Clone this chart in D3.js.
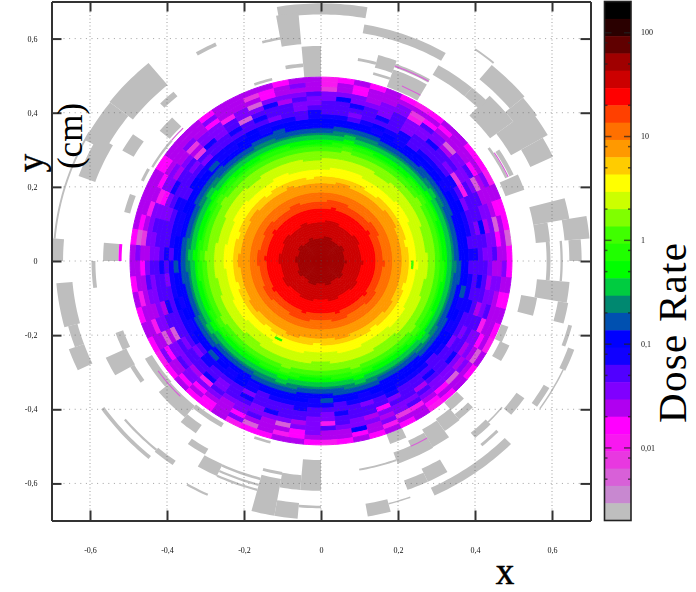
<!DOCTYPE html>
<html>
<head>
<meta charset="utf-8">
<script src="https://cdn.jsdelivr.net/npm/d3@7"></script>
<style>
  html, body { margin: 0; background: #fff; }
  svg { display: block; }
  text { font-family: "Liberation Serif", serif; }
</style>
</head>
<body>
<div id="chart"></div>
<script>
// Colour levels, highest dose first (bounds go with doseLevels)
const bandColors = ['#000000','#2a0000','#600000','#a00000','#cc0000','#ff0000','#ff4000','#ff7000','#ff9900','#ffcc00',
  '#ffff00','#ccff00','#80ff00','#40ff00','#20ff00','#00ff00','#00cc40','#008870','#0050b0','#0000ff',
  '#1000ff','#5000ff','#8000ff','#b000f0','#ff00ff','#f818f0','#e838e0','#d860d8','#c888d0','#bebebe'];
const doseLevels = [200,136,92.8,63.2,43.1,29.3,20,13.6,9.28,6.32,4.31,2.93,2,1.36,0.928,0.632,0.431,0.293,
  0.2,0.136,0.0928,0.0632,0.0431,0.0293,0.02,0.0136,0.00928,0.00632,0.00431,0.00293,0.002];
const doseMajor = [100,10,1,0.1,0.01];
const doseMinor = [80,50,20,8,5,2,0.8,0.5,0.2,0.08,0.05,0.02,0.008,0.005];
const axisTicks = [-0.6,-0.4,-0.2,0,0.2,0.4,0.6];

// Outer radius (cm) of each level inside the disc, level 3 at the centre up to level 24 at the rim
const discRadii = [.065,.108,.143,.164,.186,.212,.229,.251,.277,.298,.311,.320,.329,.342,.350,.363,.381,.397,.43,.46,.485,.50];

// Mesh wobble per 5 degree sector (thousandths of cm), counter clockwise from +x
const ringShift = [1,2,3,2,0,-2,-3,-2,0,1,3,3,1,-1,-2,-3,-1,1,2,3,1,0,-2,-1,
  1,3,2,0,-2,-3,-1,2,3,2,-1,-3,-2,0,2,3,1,-1,-3,-2,1,2,3,1,
  -1,-2,-3,-1,1,3,2,0,-2,-3,-1,1,2,3,2,-1,-3,-2,0,1,3,2,0,-1];

// Outer rings (inside to rim): + one level up, - one level down, per sector
const outerRows = [
  '..+...-...+..-.....+..-...-+.....-..+....-..+...-.....+..-...+....-..+..',
  '.-..+.....-..+.-...-...+.....+-....-...+...-...+.-.....-...+...-.+.....-',
  '+...-.+....+...-..+..-.....-...+...+.-.....-+...-...+....-.+.....-..+...',
  '..-...+-...-.+.....-..+.+...-...-...+..+..-...-.+.....-+...-..+...-...+.',
  '-.+...-..+...-.+..-....-..+...+-...-...-.+...+...-+...-...+..-..+...-...',
  '..-.+...-...+...-..+-...+..-.-...+..+....-..-.+.....-..+.-...+...-.+..-.',
  '+...-.+.-.+...-...+...-.+...-..+...-.+.-...+...-.+-...+...-.+...-...+..-',
  '.-+...-...-.+..-.+...-...-.+..-.+...-...+.-.+...-...-+..-.+...-.+.-...+.',
  '...-.+...-.....-...+.-...+...-...-.+..-...+...-.+...-...-.+..-...+...-.+',
  '.+..+-..++.-.+.+.-++.++++.+++.++++.++.+.+.-.+..+-..++.-.+.+.+-.+.+-.+.+.'
];

// Single cells that stand out, [x, y, level]
const speckCells = [
  [-.176,.423,27],[-.18,.436,26],[-.245,.385,25],[-.197,.385,27],[-.314,.29,26],[-.331,.305,26],
  [-.413,.178,25],[-.41,.165,24],[-.439,.138,25],[-.47,.066,27],[-.456,.075,26],
  [-.197,.313,19],[-.119,.425,20],[-.106,.353,18],
  [.04,.443,19],[.023,.461,26],[.018,.483,25],[.244,.38,25],[.257,.388,26],[.335,.308,27],[.352,.227,26],
  [.4,.205,27],[.451,.102,27],[.485,.062,27],[.42,.092,19],[.365,.191,25],
  [.42,-.173,25],[.4,-.258,27],[.348,-.312,27],[.257,-.383,25],[.213,-.41,26],[.157,-.393,24],
  [.101,-.456,19],[.023,-.437,25],[.179,-.437,25],
  [-.297,-.325,25],[-.366,-.316,24],[-.4,-.208,27],[-.374,-.195,27],[-.435,-.173,25],[-.462,-.105,25],
  [-.106,-.442,27],[-.098,-.464,25],[-.184,-.442,27],[-.319,-.343,24],[-.28,-.221,18],
  [-.115,-.209,14],[.238,-.011,13]
];

// Grey outer mesh cells, [inner r, outer r, start deg, end deg]
const grayArcs = [
  [.62,.697,130,142],[.635,.695,142,152],[.624,.67,150,160],[.692,.697,150,175],[.67,.71,175,180],
  [.526,.566,175,180],[.512,.528,160,165.5],[.508,.516,151,155],[.503,.509,140,150],[.562,.596,145,150],
  [.513,.547,135,140],[.58,.596,130,134.5],[.64,.65,115,120],[.503,.51,104.5,110],
  [.665,.695,80,99.5],[.587,.672,95,100],[.497,.58,90,95],[.525,.535,95,100],[.606,.613,99.5,104.5],
  [.624,.648,60,80],[.58,.61,50,60],[.64,.69,40,50],[.55,.625,37,45.5],[.58,.61,45,50],[.625,.685,35,40],
  [.57,.68,30,37],[.60,.665,25,30],[.695,.70,50,55],[.528,.535,25,35],[.54,.552,25,33],[.51,.562,20,24.5],
  [.548,.556,75,80],[.54,.575,70,75],[.556,.566,60,70],[.50,.55,60,70],[.52,.527,70,75],
  [.56,.597,5,10],[.56,.655,10,15],[.635,.70,5,10],[.645,.677,0,5],[.586,.596,0,5],[.622,.628,-5,5],[.586,.596,-5,0],
  [.563,.648,-10,-5],[.528,.57,-15,-10],[.625,.652,-15,-10],[.665,.675,-20,-15],[.683,.70,-25,-20],
  [.692,.696,-35,-25],[.668,.685,-35,-30],[.62,.645,-40,-35],[.605,.623,-50,-45],[.612,.616,-45,-40],
  [.644,.652,-50,-45],[.675,.698,-65,-45],[.618,.657,-65,-60],[.63,.657,-70,-65],[.676,.68,-75,-70],
  [.665,.70,-80,-75],[.569,.574,-80,-70],[.55,.582,-70,-60],[.497,.525,-70,-65],[.52,.56,-55,-50],
  [.525,.58,-60,-55],[.535,.58,-65,-60],[.498,.525,-50,-45],[.54,.558,-50,-45],[.498,.518,-25,-20],[.513,.54,-30,-25],
  [.537,.62,-95,-90],[.578,.586,-105,-100],[.597,.698,-105,-100],[.655,.698,-100,-95],[.66,.667,-95,-90],[.58,.62,-100,-95],
  [.605,.64,-120,-115],[.605,.612,-115,-105],[.622,.628,-115,-105],[.636,.642,-115,-105],[.585,.603,-125,-120],
  [.54,.567,-130,-125],[.507,.528,-150,-140],[.51,.55,-140,-130],[.505,.518,-130,-120],[.547,.568,-160,-155],
  [.558,.617,-155,-150],[.56,.572,-150,-145],[.648,.69,-175,-165],[.655,.68,-165,-160],[.655,.697,-160,-155],
  [.586,.596,-180,-173],[.687,.697,-145,-130],[.662,.668,-140,-130],[.658,.672,-130,-125],[.693,.699,-120,-115],
  [.503,.51,-110,-105]
];
// Thin tinted cells among the grey ones, [inner r, outer r, start deg, end deg, level]
const tintArcs = [
  [.518,.526,175,180,24],[.535,.538,25,33,27],[.505,.508,135,140,27],[.55,.553,-65,-60,27],
  [.515,.518,-145,-135,27],[.558,.561,60,70,27],[.515,.518,60,66,27]
];

const width = 696, height = 592;
const nSectors = 72, sectorDeg = 5;
const innerStep = 0.0062, innerRings = 60, outerStep = 0.0124;

const x = d3.scaleLinear().domain([-0.7, 0.7]).range([51.5, 590.5]);
const y = d3.scaleLinear().domain([-0.7, 0.7]).range([520.5, 1.5]);
const doseY = d3.scaleLog().domain([0.002, 200]).range([520.5, 1.5]);
const barLeft = 604.5, barRight = 631;

const svg = d3.select('#chart').append('svg').attr('width', width).attr('height', height);
const defs = svg.append('defs');
defs.append('clipPath').attr('id', 'plot').append('rect')
  .attr('x', x(-0.7)).attr('y', y(0.7)).attr('width', x(0.7) - x(-0.7)).attr('height', y(-0.7) - y(0.7));
defs.append('filter').attr('id', 'soft').attr('color-interpolation-filters', 'sRGB')
  .append('feGaussianBlur').attr('stdDeviation', 0.75);
defs.append('filter').attr('id', 'softText').attr('color-interpolation-filters', 'sRGB')
  .append('feGaussianBlur').attr('stdDeviation', 0.3);

// Polar cell -> polygon through the x/y scales
const toPath = d3.line().x((d) => x(d[0])).y((d) => y(d[1]));
function cellPath(r0, r1, a0, a1) {
  const pts = [];
  const n = Math.max(1, Math.ceil(Math.abs(a1 - a0)));
  for (let i = 0; i <= n; i++) {
    const a = (a0 + (a1 - a0) * i / n) * Math.PI / 180;
    pts.push([r1 * Math.cos(a), r1 * Math.sin(a)]);
  }
  for (let i = n; i >= 0; i--) {
    const a = (a0 + (a1 - a0) * i / n) * Math.PI / 180;
    pts.push([r0 * Math.cos(a), r0 * Math.sin(a)]);
  }
  return toPath(pts) + 'Z';
}

// Disc cells: level from the radius, then the outer rows, then the single cells
const cells = [];
const innerEdge = innerRings * innerStep;
for (let ring = 0; ring < innerRings + outerRows.length; ring++) {
  const outer = ring >= innerRings;
  const r0 = outer ? innerEdge + (ring - innerRings) * outerStep : ring * innerStep;
  const r1 = r0 + (outer ? outerStep : innerStep);
  for (let s = 0; s < nSectors; s++) {
    const r = (r0 + r1) / 2 + ringShift[s] / 1000;
    let level = 3 + discRadii.findIndex((d) => r < d);
    if (outer) {
      const c = outerRows[ring - innerRings].charAt(s);
      if (c === '+') level -= 1;
      if (c === '-') level += 1;
      level = Math.min(level, 26);
    }
    cells.push({ r0, r1, s, level });
  }
}
speckCells.forEach(([px, py, level]) => {
  const r = Math.hypot(px, py);
  const a = (Math.atan2(py, px) * 180 / Math.PI + 360) % 360;
  const cell = cells.find((c) => c.r0 <= r && r < c.r1 && c.s === Math.floor(a / sectorDeg));
  if (cell) cell.level = level;
});

const marks = svg.append('g').attr('clip-path', 'url(#plot)').append('g').attr('filter', 'url(#soft)');

marks.append('g').selectAll('path').data(grayArcs).join('path')
  .attr('d', (d) => cellPath(...d))
  .attr('fill', bandColors[29]);

marks.append('g').selectAll('path').data(tintArcs).join('path')
  .attr('d', (d) => cellPath(d[0], d[1], d[2], d[3]))
  .attr('fill', (d) => bandColors[d[4]]);

// strokes in the cell's own colour close the hairlines between neighbours
marks.append('g').selectAll('path').data(cells).join('path')
  .attr('d', (d) => cellPath(d.r0, d.r1, d.s * sectorDeg, (d.s + 1) * sectorDeg))
  .attr('fill', (d) => bandColors[d.level])
  .attr('stroke', (d) => bandColors[d.level])
  .attr('stroke-width', 1)
  .attr('stroke-linejoin', 'round');

// Dotted grid
const grid = svg.append('g').attr('stroke', '#555').attr('stroke-width', 1).attr('opacity', 0.55);
grid.selectAll('.gx').data(axisTicks).join('line')
  .attr('x1', (d) => x(d)).attr('x2', (d) => x(d))
  .attr('y1', y(0.7) + 10).attr('y2', y(-0.7) - 10)
  .attr('stroke-dasharray', '1 2.5');
grid.selectAll('.gy').data(axisTicks).join('line')
  .attr('y1', (d) => y(d)).attr('y2', (d) => y(d))
  .attr('x1', x(-0.7) + 12).attr('x2', x(0.7) - 10)
  .attr('stroke-dasharray', '1 4.6');

// Axes and frame
const fmt = (d) => String(d).replace('.', ',');
function styleAxis(g) {
  g.selectAll('.domain').attr('stroke', '#333').attr('stroke-width', 2);
  g.selectAll('.tick line').attr('stroke', '#333').attr('stroke-width', 2);
  g.selectAll('text').attr('font-size', 8).attr('fill', '#111')
    .attr('font-family', '"DejaVu Serif", serif').attr('filter', 'url(#softText)');
}
svg.append('g').attr('transform', `translate(0,${y(-0.7)})`)
  .call(d3.axisBottom(x).tickValues(axisTicks).tickFormat(fmt).tickSizeInner(-10).tickSizeOuter(0).tickPadding(27))
  .call(styleAxis);
svg.append('g').attr('transform', `translate(${x(-0.7)},0)`)
  .call(d3.axisLeft(y).tickValues(axisTicks).tickFormat(fmt).tickSizeInner(-10).tickSizeOuter(0).tickPadding(14))
  .call(styleAxis);
svg.append('g').attr('transform', `translate(0,${y(0.7)})`)
  .call(d3.axisTop(x).tickValues(axisTicks).tickFormat('').tickSizeInner(-10).tickSizeOuter(0))
  .call(styleAxis);
svg.append('g').attr('transform', `translate(${x(0.7)},0)`)
  .call(d3.axisRight(y).tickValues(axisTicks).tickFormat('').tickSizeInner(-10).tickSizeOuter(0))
  .call(styleAxis);

// Colour bar
const bar = svg.append('g');
bar.append('g').attr('filter', 'url(#softText)').selectAll('rect').data(bandColors).join('rect')
  .attr('x', barLeft).attr('width', barRight - barLeft)
  .attr('y', (d, i) => doseY(doseLevels[i]))
  .attr('height', (d, i) => doseY(doseLevels[i + 1]) - doseY(doseLevels[i]) + 0.5)
  .attr('fill', (d) => d);
bar.append('rect').attr('x', barLeft).attr('y', doseY(200))
  .attr('width', barRight - barLeft).attr('height', doseY(0.002) - doseY(200))
  .attr('fill', 'none').attr('stroke', '#222').attr('stroke-width', 1.6);

function barTicks(values, len, w) {
  const g = bar.append('g').attr('stroke', '#222').attr('stroke-width', w).attr('opacity', 0.7);
  g.selectAll('.l').data(values).join('line')
    .attr('x1', barLeft).attr('x2', barLeft + len)
    .attr('y1', (d) => doseY(d)).attr('y2', (d) => doseY(d));
  g.selectAll('.r').data(values).join('line')
    .attr('x1', barRight).attr('x2', barRight - len)
    .attr('y1', (d) => doseY(d)).attr('y2', (d) => doseY(d));
}
barTicks(doseMajor, 7, 1.5);
barTicks(doseMinor, 3, 1.5);

bar.selectAll('.doselabel').data(doseMajor).join('text')
  .attr('x', 641).attr('y', (d) => doseY(d)).attr('dy', '0.32em')
  .attr('font-size', 8).attr('fill', '#111').attr('font-family', '"DejaVu Serif", serif')
  .attr('filter', 'url(#softText)')
  .text(fmt);

// Titles
const titles = svg.append('g').attr('fill', '#000');
titles.append('text').attr('text-anchor', 'middle').attr('x', 505).attr('y', 584)
  .attr('font-size', 37).attr('stroke', '#000').attr('stroke-width', 0.6).text('x');
titles.append('text').attr('text-anchor', 'middle').attr('font-size', 37)
  .attr('stroke', '#000').attr('stroke-width', 0.4)
  .attr('transform', 'translate(43,163) rotate(-90)').text('y');
titles.append('text').attr('text-anchor', 'middle').attr('font-size', 35)
  .attr('transform', 'translate(82,136) rotate(-90)').text('(cm)');
titles.append('text').attr('text-anchor', 'middle').attr('font-size', 41)
  .attr('textLength', 180).attr('lengthAdjust', 'spacing')
  .attr('transform', 'translate(686,333) rotate(-90)').text('Dose Rate');
</script>
</body>
</html>
